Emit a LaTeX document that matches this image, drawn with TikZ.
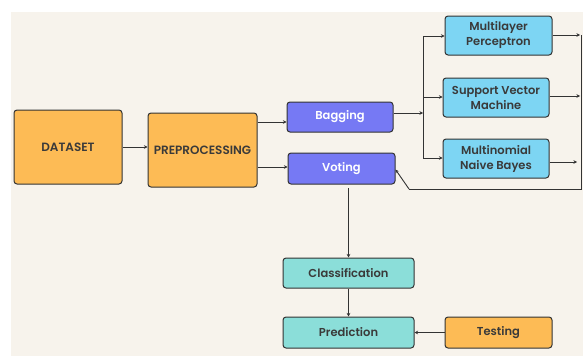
\documentclass[tikz,border=0pt]{standalone}
\usepackage{fontspec}
\setmainfont{Poppins}[UprightFont=* SemiBold, BoldFont=* SemiBold]
\usetikzlibrary{arrows.meta}
\definecolor{bg}{HTML}{F7F3EC}
\definecolor{orng}{HTML}{FDBB55}
\definecolor{purp}{HTML}{7679F4}
\definecolor{sky}{HTML}{7DD5F3}
\definecolor{teal}{HTML}{8BDED9}
\definecolor{ink}{HTML}{333333}
\definecolor{txt}{HTML}{3A3A3A}
\tikzset{
  box/.style={draw=ink, line width=1pt, rounded corners=3pt, align=center, inner sep=0pt, text=txt, font=\fontsize{11.5}{15}\selectfont},
  obox/.style={box, fill=orng},
  pbox/.style={box, fill=purp, text=white},
  sbox/.style={box, fill=sky},
  tbox/.style={box, fill=teal},
  big/.style={font=\fontsize{12}{14}\selectfont},
  conn/.style={draw=ink, line width=0.9pt},
  arr/.style={conn, -{Stealth[length=3.5pt,width=3.5pt]}}
}
\begin{document}
\begin{tikzpicture}[x=1pt,y=-1pt]
\useasboundingbox (0,0) rectangle (583,356);
\fill[white] (0,0) rectangle (583,356);
\fill[bg] (11,12) rectangle (583,356);

\node[obox, big, minimum width=108pt, minimum height=74pt] (ds) at (68,147) {DATASET};
\node[obox, big, minimum width=109pt, minimum height=74pt] (pp) at (202.5,150) {PREPROCESSING};
\node[pbox, minimum width=106pt, minimum height=30pt] (bag) at (340,117) {Bagging};
\node[pbox, minimum width=107pt, minimum height=31pt] (vot) at (341.5,168.5) {Voting};
\node[sbox, minimum width=107pt, minimum height=39pt] (mlp) at (498.5,35.5) {Multilayer\\Perceptron};
\node[sbox, minimum width=106pt, minimum height=39pt] (svm) at (496,97.5) {Support Vector\\Machine};
\node[sbox, minimum width=106pt, minimum height=39pt] (mnb) at (496,158.5) {Multinomial\\Naive Bayes};
\node[tbox, minimum width=131pt, minimum height=30pt] (cls) at (348.5,273) {Classification};
\node[tbox, minimum width=131pt, minimum height=31pt] (pred) at (348.5,332.5) {Prediction};
\node[obox, minimum width=107pt, minimum height=31pt] (test) at (498.5,332.5) {Testing};

\coordinate (j) at (423,113);
\coordinate (jt) at (423,36);
\coordinate (jm) at (423,97);
\coordinate (jb) at (423,158);
\coordinate (r1) at (580,35);
\coordinate (r2) at (580,96);
\coordinate (r3) at (577,162);
\coordinate (rt) at (581,35);
\coordinate (rb) at (581,189);
\coordinate (bk) at (409,189);

\draw[arr] (ds.east) -- (ds.east -| pp.west);
\draw[arr] (pp.east |- 0,122) -- (bag.west |- 0,122);
\draw[arr] (pp.east |- 0,167) -- (vot.west |- 0,167);
\draw[arr] (bag.east |- j) -- (j);
\draw[conn] (jt) -- (jb);
\draw[arr] (jt) -- (mlp.west |- jt);
\draw[arr] (jm) -- (svm.west |- jm);
\draw[arr] (jb) -- (mnb.west |- jb);
\draw[arr] (mlp.east |- r1) -- (r1);
\draw[arr] (svm.east |- r2) -- (r2);
\draw[arr] (mnb.east |- r3) -- (r3);
\draw[conn] (rt) -- (rb) -- (bk);
\draw[arr] (bk) -- ([yshift=-1pt]vot.east);
\draw[arr] (cls.north |- 0,188) -- (cls.north);
\draw[arr] (cls.south) -- (pred.north);
\draw[arr] (test.west) -- (pred.east);
\end{tikzpicture}
\end{document}
